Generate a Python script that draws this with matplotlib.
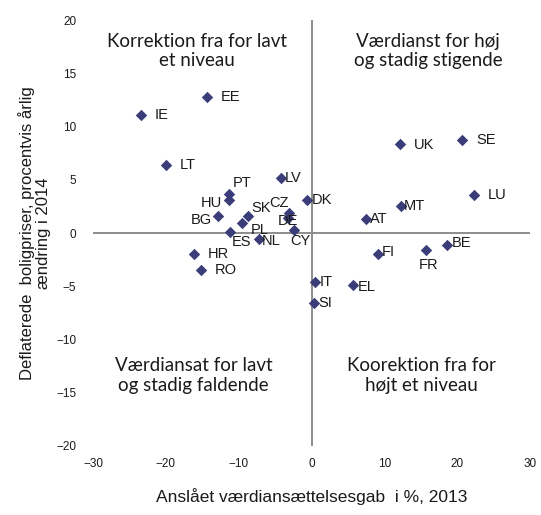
import matplotlib
matplotlib.use("Agg")
import matplotlib.pyplot as plt

# valuation gap 2013 (x) vs. deflated house price change 2014 (y)
countries = ["EE", "IE", "LT", "LV", "PT", "HU", "DK", "BG", "SK", "PL", "CZ", "DE",
             "ES", "NL", "CY", "HR", "RO", "IT", "SI", "UK", "SE", "LU", "MT", "AT",
             "BE", "FR", "FI", "EL"]
gap_2013 = [-14.4, -23.4, -20.0, -4.2, -11.4, -11.4, -0.7, -12.8, -8.8, -9.5, -3.1, -3.3,
            -11.2, -7.2, -2.4, -16.2, -15.2, 0.5, 0.3, 12.1, 20.7, 22.3, 12.3, 7.4,
            18.6, 15.7, 9.1, 5.7]
price_2014 = [12.8, 11.1, 6.4, 5.2, 3.7, 3.1, 3.1, 1.6, 1.6, 0.9, 1.9, 1.4,
              0.1, -0.6, 0.3, -2.0, -3.5, -4.6, -6.6, 8.4, 8.7, 3.6, 2.5, 1.35,
              -1.1, -1.6, -1.95, -4.9]

# label offsets in points (dx, dy, ha)
label_pos = {
    "EE": (10, 0, "left"), "IE": (10, 0, "left"),
    "LT": (10, 0, "left"), "LV": (3, 0, "left"),
    "PT": (3, 8, "left"), "HU": (-5, -2, "right"),
    "DK": (4, 0, "left"), "BG": (-5, -3, "right"),
    "SK": (3, 6, "left"), "PL": (6, -5, "left"),
    "CZ": (-7, 7, "center"), "DE": (0, -2, "center"),
    "ES": (1, -7, "left"), "NL": (2, -1, "left"),
    "CY": (-3, -8, "left"), "HR": (10, 0, "left"),
    "RO": (10, 0, "left"), "IT": (3, 0, "left"),
    "SI": (3, 0, "left"), "UK": (10, -1, "left"),
    "SE": (10, 0, "left"), "LU": (10, 0, "left"),
    "MT": (2, 0, "left"), "AT": (3, 0, "left"),
    "BE": (3, 1, "left"), "FR": (2, -11, "center"),
    "FI": (3, 1, "left"), "EL": (3, -1, "left"),
}

quadrant_text = ["Korrektion fra for lavt\net niveau",
                 "Værdianst for høj\nog stadig stigende",
                 "Værdiansat for lavt\nog stadig faldende",
                 "Koorektion fra for\nhøjt et niveau"]
quadrant_xy = [(-15.8, 17.1), (16.0, 17.1), (-16.2, -13.4), (15.1, -13.4)]

x_ticks = [-30, -20, -10, 0, 10, 20, 30]
y_ticks = [-20, -15, -10, -5, 0, 5, 10, 15, 20]

plt.rcParams["font.family"] = ["Liberation Sans", "DejaVu Sans"]

fig = plt.figure(figsize=(5.41, 5.15), dpi=100)
ax = fig.add_axes([0.172, 0.134, 0.808, 0.827])

ax.set_xlim(-30, 30)
ax.set_ylim(-20, 20)
for s in ax.spines.values():
    s.set_visible(False)
ax.axhline(0, color="#8c8c8c", lw=1.4, zorder=1)
ax.axvline(0, color="#8c8c8c", lw=1.4, zorder=1)

ax.scatter(gap_2013, price_2014, marker="D", s=34, color="#3a3d78", zorder=3,
           linewidths=0)

for c, x, y in zip(countries, gap_2013, price_2014):
    dx, dy, ha = label_pos[c]
    ax.annotate(c, (x, y), xytext=(dx, dy), textcoords="offset points",
                ha=ha, va="center", fontsize=10.5, color="#1a1a1a", zorder=4)

for txt, (qx, qy) in zip(quadrant_text, quadrant_xy):
    ax.text(qx, qy, txt, ha="center", va="center", fontsize=13.5,
            family=["Lato", "DejaVu Sans"], color="#1a1a1a", linespacing=1.2)

ax.set_xticks(x_ticks)
ax.set_yticks(y_ticks)
ax.tick_params(axis="both", length=0, labelsize=8.5, colors="#1a1a1a")
ax.tick_params(axis="x", pad=9)
ax.tick_params(axis="y", pad=12)

ax.set_xlabel("Anslået værdiansættelsesgab  i %, 2013", fontsize=12.5,
              color="#1a1a1a", labelpad=13)
ax.set_ylabel("Deflaterede  boligpriser, procentvis årlig\nændring i 2014",
              fontsize=12, color="#1a1a1a", labelpad=4, linespacing=1.1)

fig.savefig("out.png", dpi=100)
